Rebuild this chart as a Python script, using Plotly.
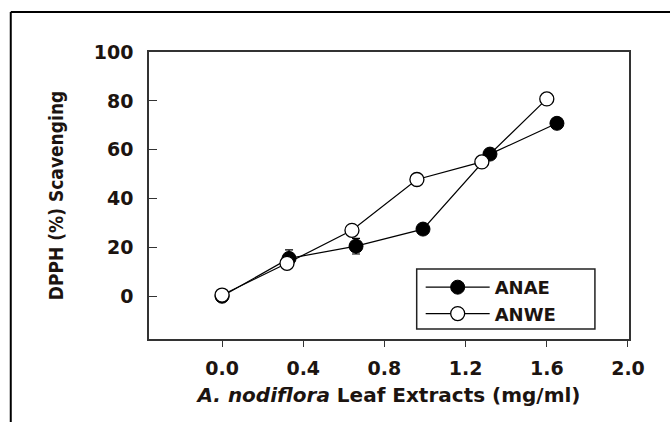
import plotly.graph_objects as go

# Data
anae_x = [0.0, 0.33, 0.66, 0.99, 1.32, 1.65]
anae_y = [0.0, 15.5, 20.5, 27.5, 58.2, 70.8]
anae_err = [0.0, 3.5, 3.2, 1.2, 1.5, 1.2]

anwe_x = [0.0, 0.32, 0.64, 0.96, 1.28, 1.60]
anwe_y = [0.5, 13.5, 27.0, 47.8, 55.0, 80.8]
anwe_err = [0.5, 1.5, 1.5, 1.5, 1.5, 1.5]

x_ticks = [0.0, 0.4, 0.8, 1.2, 1.6, 2.0]
x_ticklabels = ["0.0", "0.4", "0.8", "1.2", "1.6", "2.0"]
y_ticks = [0, 20, 40, 60, 80, 100]
y_ticklabels = ["0", "20", "40", "60", "80", "100"]

TXT = "#1c1410"
FONT = "DejaVu Sans"

fig = go.Figure()
fig.add_trace(go.Scatter(
    x=anae_x, y=anae_y, name="ANAE", mode="lines+markers",
    line=dict(color="black", width=1.2),
    marker=dict(symbol="circle", size=14, color="black", line=dict(color="black", width=1)),
    error_y=dict(type="data", array=anae_err, color="black", thickness=1.2, width=4),
))
fig.add_trace(go.Scatter(
    x=anwe_x, y=anwe_y, name="ANWE", mode="lines+markers",
    line=dict(color="black", width=1.2),
    marker=dict(symbol="circle", size=14, color="white", line=dict(color="black", width=1.3)),
    error_y=dict(type="data", array=anwe_err, color="black", thickness=1.2, width=4),
))

fig.update_layout(
    width=670, height=422,
    margin=dict(l=149, r=41, t=52, b=83),
    paper_bgcolor="white", plot_bgcolor="white",
    font=dict(family=FONT, color=TXT),
    showlegend=True,
    legend=dict(
        x=0.566, y=0.244, xanchor="left", yanchor="top",
        borderwidth=0, bgcolor="rgba(0,0,0,0)",
        font=dict(family=FONT, size=18, color=TXT, weight="bold"),
        itemwidth=64, tracegroupgap=0,
    ),
    xaxis=dict(
        range=[-0.36, 2.005], tickmode="array", tickvals=x_ticks, ticktext=x_ticklabels,
        ticks="outside", ticklen=6, tickwidth=1.3, tickcolor="#333",
        showline=True, linecolor="#333", linewidth=1.5, mirror=True,
        showgrid=False, zeroline=False,
        tickfont=dict(family=FONT, size=19, color=TXT, weight="bold"),
        ticklabelstandoff=5,
        title=dict(text="<i>A. nodiflora</i> Leaf Extracts (mg/ml)",
                   font=dict(family=FONT, size=20, color=TXT, weight="bold"), standoff=10),
    ),
    yaxis=dict(
        range=[-17.5, 100], tickmode="array", tickvals=y_ticks, ticktext=y_ticklabels,
        ticks="inside", ticklen=8, tickwidth=1.3, tickcolor="#333",
        showline=True, linecolor="#333", linewidth=1.5, mirror=True,
        showgrid=False, zeroline=False,
        tickfont=dict(family=FONT, size=19, color=TXT, weight="bold"),
        ticklabelstandoff=10,
        title=dict(text="DPPH (%) Scavenging",
                   font=dict(family="DejaVu Sans Condensed", size=19, color=TXT, weight="bold"), standoff=25),
    ),
    shapes=[
        dict(type="line", xref="paper", yref="paper", x0=-0.288, x1=1.1, y0=1.139, y1=1.139,
             line=dict(color="black", width=2)),
        dict(type="line", xref="paper", yref="paper", x0=-0.288, x1=-0.288, y0=1.139, y1=-0.3,
             line=dict(color="black", width=2)),
        dict(type="rect", xref="paper", yref="paper", x0=0.5577, x1=0.929, y0=0.0348, y1=0.2439,
             line=dict(color="#222", width=1.5), fillcolor="rgba(0,0,0,0)", layer="above"),
    ],
)

fig.write_html("out.html", config={"displayModeBar": False},
               post_script="document.body.style.margin='0';document.body.style.overflow='hidden';")
